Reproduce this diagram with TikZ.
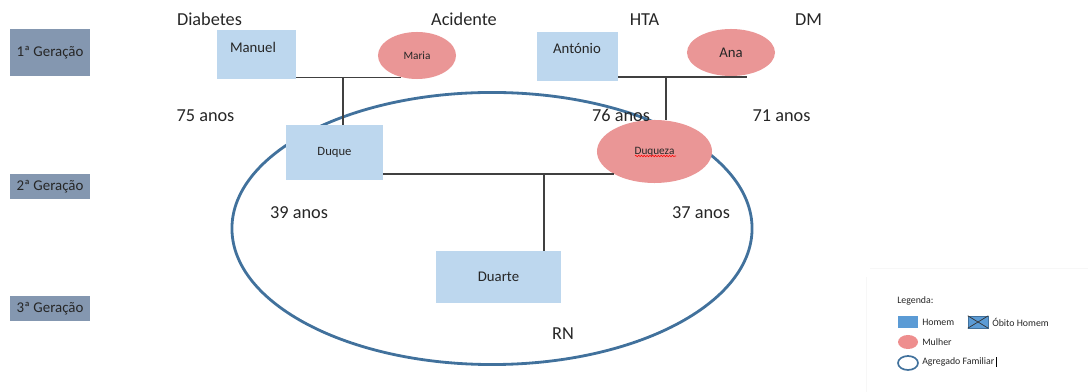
\documentclass[tikz,border=0pt]{standalone}
\usepackage{fontspec}
\setmainfont{Carlito}
\usetikzlibrary{shapes.geometric, decorations.pathmorphing}
\definecolor{corgeracao}{HTML}{8497B0}
\definecolor{corhomem}{HTML}{BDD7EE}
\definecolor{cormulher}{HTML}{EA9696}
\definecolor{coragregado}{HTML}{41719C}
\definecolor{corleghomem}{HTML}{5B9BD5}
\definecolor{corlegmulher}{HTML}{EE8E8E}
\definecolor{cortraco}{HTML}{404040}

\begin{document}
\begin{tikzpicture}[x=0.025cm, y=-0.025cm,
        every node/.style={text=black!85},
        gerbox/.style={fill=corgeracao, minimum width=2cm, minimum height=0.625cm, inner sep=0, font=\fontsize{10.6}{12}\selectfont},
        homembox/.style={fill=corhomem, inner sep=0},
        mulherell/.style={ellipse, fill=cormulher, inner sep=0},
        rotulo/.style={anchor=base, font=\fontsize{13}{15}\selectfont},
        nome/.style={anchor=base, font=\fontsize{10.5}{12}\selectfont},
        ligacao/.style={draw=cortraco, line width=0.9pt},
        legtxt/.style={anchor=west, inner sep=0, font=\fontsize{7}{8}\selectfont}]
        \useasboundingbox (0,0) rectangle (1088,392);

        \node[ellipse, draw=coragregado, line width=2pt, minimum width=13cm, minimum height=6.8cm, inner sep=0] (agregado) at (492,228.5) {};

        \node[gerbox, minimum height=1.175cm] (ger1) at (50,52.5) {1ª Geração};
        \node[gerbox] (ger2) at (50,186.5) {2ª Geração};
        \node[gerbox] (ger3) at (50,308.5) {3ª Geração};

        \node[homembox, minimum width=1.975cm, minimum height=1.225cm] (manuel) at (256.5,54.5) {};
        \node[nome] (manuelnome) at (253,53) {Manuel};
        \node[mulherell, minimum width=1.95cm, minimum height=1.175cm, font=\fontsize{8}{9}\selectfont] (maria) at (417,55.5) {Maria};
        \node[homembox, minimum width=2.025cm, minimum height=1.225cm] (antonio) at (577.5,56.5) {};
        \node[nome] (antonionome) at (577,54) {António};
        \node[mulherell, minimum width=2.2cm, minimum height=1.175cm, font=\fontsize{10.5}{12}\selectfont] (ana) at (731,52.5) {Ana};
        \node[homembox, minimum width=2.425cm, minimum height=1.375cm, font=\fontsize{9}{10}\selectfont] (duque) at (334.5,152.5) {Duque};
        \node[mulherell, minimum width=2.875cm, minimum height=1.575cm, font=\fontsize{8}{9}\selectfont] (duqueza) at (654.5,151.5) {Duqueza};
        \node[homembox, minimum width=3.125cm, minimum height=1.3cm, font=\fontsize{10.5}{12}\selectfont] (duarte) at (498.5,277) {Duarte};
        \draw[red, line width=0.4pt, decorate, decoration={snake, amplitude=0.5pt, segment length=2pt}] (635,156) -- (676,156);

        \node[rotulo] (diabetes) at (209.5,26) {Diabetes};
        \node[rotulo] (acidente) at (464,26) {Acidente};
        \node[rotulo] (hta) at (644.5,26) {HTA};
        \node[rotulo] (dm) at (808.5,26) {DM};
        \node[rotulo] (idmanuel) at (205.5,122) {75 anos};
        \node[rotulo] (idantonio) at (621,122) {76 anos};
        \node[rotulo] (idana) at (781.5,122) {71 anos};
        \node[rotulo] (idduque) at (299,219) {39 anos};
        \node[rotulo] (idduqueza) at (701,219) {37 anos};
        \node[rotulo] (idduarte) at (563,340) {RN};

        \coordinate (casal1) at (343,77);
        \coordinate (casal2) at (666,77);
        \coordinate (casal2fim) at (747,77);
        \coordinate (casal3) at (544,174);
        \draw[ligacao] (maria.233 -| manuel.east) -- (maria.233)
        (casal1) -- (casal1 |- duque.north);
        \draw[ligacao] (antonio.east |- casal2fim) -- (casal2fim)
        (casal2) -- (casal2 |- duqueza.north);
        \draw[ligacao] (duqueza.209 -| duque.east) -- (duqueza.209)
        (casal3) -- (casal3 |- duarte.north);

        \draw[black!3] (866,392) -- (866,277) (870,268) -- (1088,268);
        \node[legtxt, anchor=base west] (legenda) at (897,304) {Legenda:};
        \node[fill=corleghomem, minimum width=0.5cm, minimum height=0.3cm, inner sep=0] (leghomem) at (908,322) {};
        \node[legtxt] (leghomemtxt) at (922,322) {Homem};
        \node[fill=corleghomem, draw=coragregado, line width=0.3pt, minimum width=0.5cm, minimum height=0.3cm, inner sep=0] (legobito) at (978,322) {};
        \draw[black!80, line width=0.5pt] (legobito.north west) -- (legobito.south east)
        (legobito.south west) -- (legobito.north east);
        \node[legtxt] (legobitotxt) at (992,322) {Óbito Homem};
        \node[ellipse, fill=corlegmulher, minimum width=0.5cm, minimum height=0.35cm, inner sep=0] (legmulher) at (908,342) {};
        \node[legtxt] (legmulhertxt) at (922,342) {Mulher};
        \node[ellipse, draw=coragregado, line width=1.2pt, minimum width=0.5cm, minimum height=0.35cm, inner sep=0] (legagregado) at (908,363) {};
        \node[legtxt] (legagregadotxt) at (922,362) {Agregado Familiar};
        \draw[line width=0.3pt] ([xshift=1pt]legagregadotxt.north east) -- ([xshift=1pt]legagregadotxt.south east);

    \end{tikzpicture}
\end{document}
